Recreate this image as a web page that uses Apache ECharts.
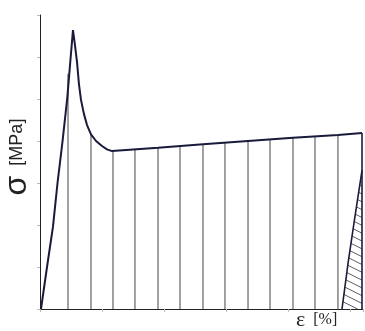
<!DOCTYPE html>
<html><head><meta charset="utf-8">
<script src="https://cdn.jsdelivr.net/npm/echarts@6/dist/echarts.min.js"></script>
<style>html,body{margin:0;padding:0;background:#fff}#c{width:365px;height:331px}</style>
</head><body><div id="c"></div>
<script>
// stress-strain curve (strain %, stress MPa)
var curveStrain = [0.016, 0.113, 0.209, 0.282, 0.365, 0.440, 0.494, 0.531, 0.563, 0.596, 0.628, 0.660, 0.708, 0.757, 0.821, 0.902, 0.998, 1.079, 1.159, 1.900, 2.624, 3.349, 4.073, 4.797, 5.184];
var curveStress = [0, 5.0, 9.8, 15.0, 20.1, 25.2, 30.0, 33.2, 31.4, 29.4, 26.7, 24.9, 23.2, 21.9, 20.8, 20.0, 19.4, 19.0, 18.8, 19.2, 19.6, 20.0, 20.4, 20.7, 20.95];
// vertical hatch lines under the curve
var hatchStrain = [0.451, 0.821, 1.175, 1.529, 1.900, 2.254, 2.624, 2.978, 3.349, 3.703, 4.073, 4.427, 4.797];
var hatchTop    = [28.0, 20.8, 18.8, 19.0, 19.2, 19.4, 19.6, 19.8, 20.0, 20.2, 20.4, 20.6, 20.7];
// right edge of the curve (end of test)
var edgeStrain = [5.184, 5.184];
var edgeStress = [0, 20.95];
// elastic unloading line (recovered part)
var unloadStrain = [4.862, 4.960, 5.060, 5.184];
var unloadStress = [0, 5.5, 10.5, 16.5];
var xMax = 5.2, yMax = 35;

var curveData = curveStrain.map(function(x,i){return [x, curveStress[i]];});
var vertData = [];
hatchStrain.forEach(function(x,i){ vertData.push([x,0]); vertData.push([x,hatchTop[i]]); vertData.push([null,null]); });
var unloadData = unloadStrain.map(function(x,i){return [x, unloadStress[i]];});
var edgeData = edgeStrain.map(function(x,i){return [x, edgeStress[i]];});

var chart = echarts.init(document.getElementById('c'), null, {renderer:'canvas'});
chart.setOption({
  animation:false,
  grid:{left:40, right:2, top:15, bottom:22, containLabel:false, outerBoundsMode:'none'},
  xAxis:{type:'value', min:0, max:xMax, interval:1,
    axisLine:{lineStyle:{color:'#222', width:1}},
    axisTick:{show:true, length:3, lineStyle:{color:'#bbb'}},
    axisLabel:{show:false}, splitLine:{show:false}},
  yAxis:{type:'value', min:0, max:yMax, interval:5,
    name:'{s|σ}{t|  [MPa]}', nameLocation:'middle', nameGap:7, nameRotate:90,
    nameTextStyle:{color:'#222', align:'center', padding:[0,0,0,10],
      rich:{s:{fontFamily:'Liberation Sans', fontSize:32, color:'#222'},
            t:{fontFamily:'Liberation Sans', fontSize:18, color:'#222'}}},
    axisLine:{show:true, lineStyle:{color:'#222', width:1}},
    axisTick:{show:true, length:3, lineStyle:{color:'#bbb'}},
    axisLabel:{show:false}, splitLine:{show:false}},
  graphic:[{type:'text', left:296, top:309, style:{
    text:'{e|ε}{p|  [%]}', fill:'#222',
    rich:{e:{fontFamily:'Liberation Serif', fontSize:22, fill:'#222'}, p:{fontFamily:'Liberation Serif', fontSize:16, fill:'#222'}}}}],
  series:[
    {type:'line', data:vertData, showSymbol:false, connectNulls:false, silent:true,
      lineStyle:{color:'#444', width:1}, z:1},
    {type:'custom', silent:true, z:2, data:[0],
      renderItem:function(params, api){
        var kids = [];
        var n = unloadData.length;
        var topY = unloadData[n-1][1];
        var xr = api.coord([edgeStrain[0], 0])[0];
        var base = api.coord([0,0])[1];
        var steps = 19;
        for (var k=1;k<=steps;k++){
          var yv = topY * k/steps;
          var xl = unloadData[0][0];
          for (var j=1;j<n;j++){
            if (yv <= unloadData[j][1]){
              var a = unloadData[j-1], b = unloadData[j];
              xl = a[0] + (b[0]-a[0])*(yv-a[1])/(b[1]-a[1]);
              break;
            }
          }
          var p1 = api.coord([xl, yv]);
          var dx = xr - p1[0];
          var p2 = [xr, p1[1] + dx*0.5];
          if (p2[1] > base) { p2 = [p1[0] + (base-p1[1])/0.5, base]; }
          kids.push({type:'line', shape:{x1:p1[0], y1:p1[1], x2:p2[0], y2:p2[1]}, style:{stroke:'#333', lineWidth:0.8}});
        }
        return {type:'group', children:kids};
      }},
    {type:'line', data:edgeData, showSymbol:false, silent:true,
      lineStyle:{color:'#1c1c3c', width:1.6}, z:3},
    {type:'line', data:unloadData, showSymbol:false, silent:true,
      lineStyle:{color:'#1c1c3c', width:1.6}, z:3},
    {type:'line', data:curveData, showSymbol:false, smooth:false, silent:true,
      lineStyle:{color:'#1a1a3a', width:2}, z:4}
  ]
});
</script></body></html>
